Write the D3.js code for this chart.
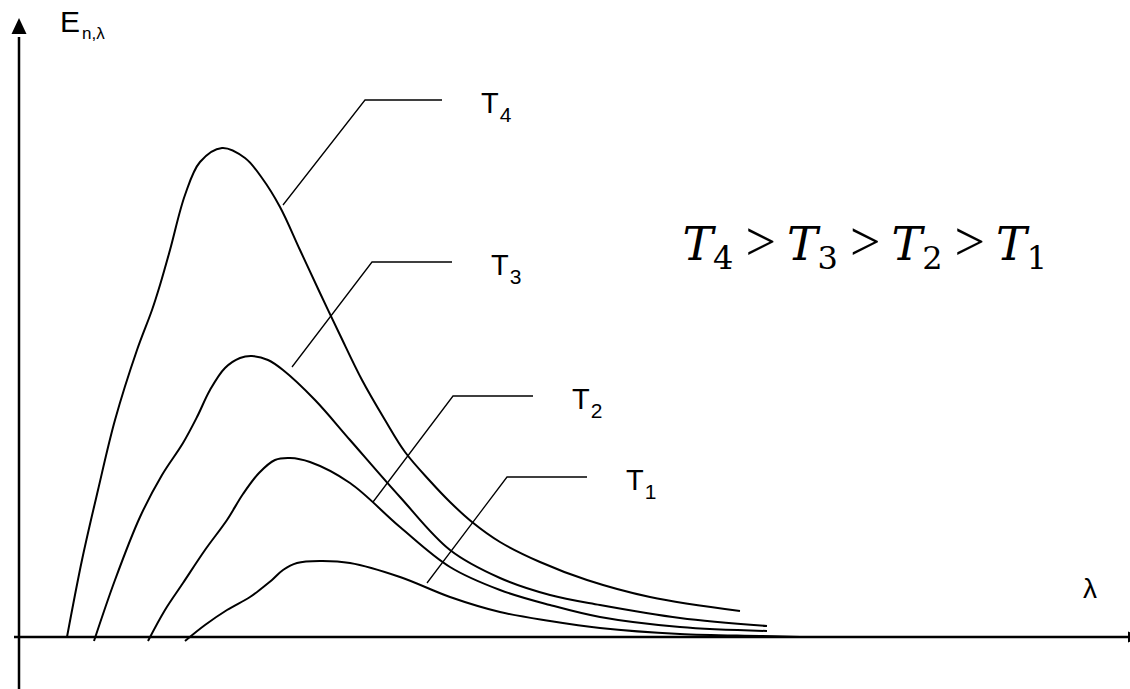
<!DOCTYPE html>
<html>
<head>
<meta charset="utf-8">
<script src="https://cdn.jsdelivr.net/npm/d3@7/dist/d3.min.js"></script>
<style>
  html, body { margin: 0; padding: 0; background: #fff; }
  svg { display: block; }
</style>
</head>
<body>
<svg id="chart" width="1130" height="689"></svg>
<script>
// Spectral emissive power E(n,λ) for four temperatures (arbitrary units).
// Each curve is a list of [λ, E] pairs.
const seriesNames = ["T4", "T3", "T2", "T1"];
const curveT4 = [[48,0],[63,77],[79,147],[96,217],[118,287],[133,327],[141,352],[151,387],[166,442],[181,475],[203,489],[226,479],[243,459],[261,430],[281,387],[301,344],[321,302],[343,257],[366,217],[386,185],[411,156],[431,135],[453,115],[481,95],[521,75],[568,57],[631,40],[721,26]];
const curveT3 = [[75,-4],[96,57],[121,120],[143,162],[164,194],[178,220],[191,247],[206,269],[221,279],[233,281],[249,277],[264,267],[296,237],[331,197],[381,140],[431,87],[481,59],[531,42],[581,32],[661,19],[748,11]];
const curveT2 = [[129,-4],[146,27],[164,54],[186,87],[208,117],[224,143],[240,164],[256,177],[271,179],[291,175],[331,154],[381,110],[431,70],[481,47],[531,32],[581,20],[661,10],[748,6]];
const curveT1 = [[166,-4],[186,12],[208,27],[231,40],[243,49],[253,57],[264,67],[278,74],[301,76],[331,74],[381,60],[431,40],[481,25],[531,16],[581,9],[661,3],[741,1],[781,0]];

// Leader lines from each curve to its label: [start on curve, elbow, end].
const leaderT4 = [[264,432],[346,537],[423,537]];
const leaderT3 = [[273,270],[353,375],[433,375]];
const leaderT2 = [[354,135],[434,241],[514,241]];
const leaderT1 = [[408,54],[488,160],[568,160]];

const labelSubs = ["4", "3", "2", "1"];
const inequality = ["T", "4", "T", "3", "T", "2", "T", "1"];

const svg = d3.select("#chart");
const W = 1130, H = 689;

const x = d3.scaleLinear().domain([0, 1111]).range([19, 1130]);
const y = d3.scaleLinear().domain([0, 619]).range([637, 18]);

// Axes
const axes = svg.append("g").attr("stroke", "#000").attr("stroke-width", 2.5);
axes.append("line")
  .attr("x1", x(0)).attr("x2", x(0))
  .attr("y1", H).attr("y2", y(0) - 600);
axes.append("line")
  .attr("x1", x(-5)).attr("x2", W)
  .attr("y1", y(0)).attr("y2", y(0));

// Arrowheads
svg.append("path")
  .attr("d", `M${x(0)},${y(619)} L${x(0) - 7.5},${y(619) + 16} L${x(0) + 7.5},${y(619) + 16} Z`)
  .attr("fill", "#000");
svg.append("path")
  .attr("d", `M${W + 12},${y(0)} L${W - 2},${y(0) - 5.5} L${W - 2},${y(0) + 5.5} Z`)
  .attr("fill", "#000");

// Axis labels
const yLab = svg.append("text")
  .attr("x", 60).attr("y", 32)
  .attr("font-family", "Liberation Sans, Arial, sans-serif")
  .attr("font-size", 30).attr("fill", "#000");
yLab.append("tspan").text("E");
yLab.append("tspan").attr("font-size", 17).attr("dx", 2).attr("dy", 7).text("n,λ");

svg.append("text")
  .attr("x", 1083).attr("y", 598)
  .attr("font-family", "Liberation Sans, Arial, sans-serif")
  .attr("font-size", 28).attr("fill", "#000")
  .text("λ");

// Curves
const line = d3.line()
  .x(d => x(d[0]))
  .y(d => y(d[1]))
  .curve(d3.curveCatmullRom.alpha(0.5));

const curves = [curveT4, curveT3, curveT2, curveT1];
svg.append("g").selectAll("path")
  .data(curves)
  .join("path")
  .attr("d", line)
  .attr("fill", "none")
  .attr("stroke", "#000")
  .attr("stroke-width", 2);

// Leader lines and labels
const leaders = [leaderT4, leaderT3, leaderT2, leaderT1];
const straight = d3.line().x(d => x(d[0])).y(d => y(d[1]));
svg.append("g").selectAll("path")
  .data(leaders)
  .join("path")
  .attr("d", straight)
  .attr("fill", "none")
  .attr("stroke", "#000")
  .attr("stroke-width", 1.3);

const labels = svg.append("g")
  .attr("font-family", "Liberation Sans, Arial, sans-serif")
  .attr("fill", "#000");
leaders.forEach((ld, i) => {
  const end = ld[ld.length - 1];
  const t = labels.append("text")
    .attr("x", x(end[0]) + 39)
    .attr("y", y(end[1]) + 12.5)
    .attr("font-size", 29);
  t.append("tspan").text("T");
  t.append("tspan").attr("font-size", 21).attr("dx", 1).attr("dy", 9).text(labelSubs[i]);
});

// Temperature ordering
const eq = svg.append("text")
  .attr("x", 1047).attr("y", 260)
  .attr("text-anchor", "end")
  .attr("font-family", "DejaVu Serif, serif")
  .attr("font-size", 46).attr("fill", "#000");
for (let k = 0; k < inequality.length; k += 2) {
  if (k > 0) {
    eq.append("tspan").attr("font-style", "normal")
      .attr("font-family", "Liberation Serif, serif").attr("font-size", 54)
      .attr("dx", 12).attr("dy", -9).text(">");
  }
  eq.append("tspan").attr("font-style", "italic").attr("dx", k > 0 ? 11 : null).text(inequality[k]);
  eq.append("tspan").attr("font-style", "normal").attr("font-size", 32).attr("dy", 9).text(inequality[k + 1]);
}
</script>
</body>
</html>
